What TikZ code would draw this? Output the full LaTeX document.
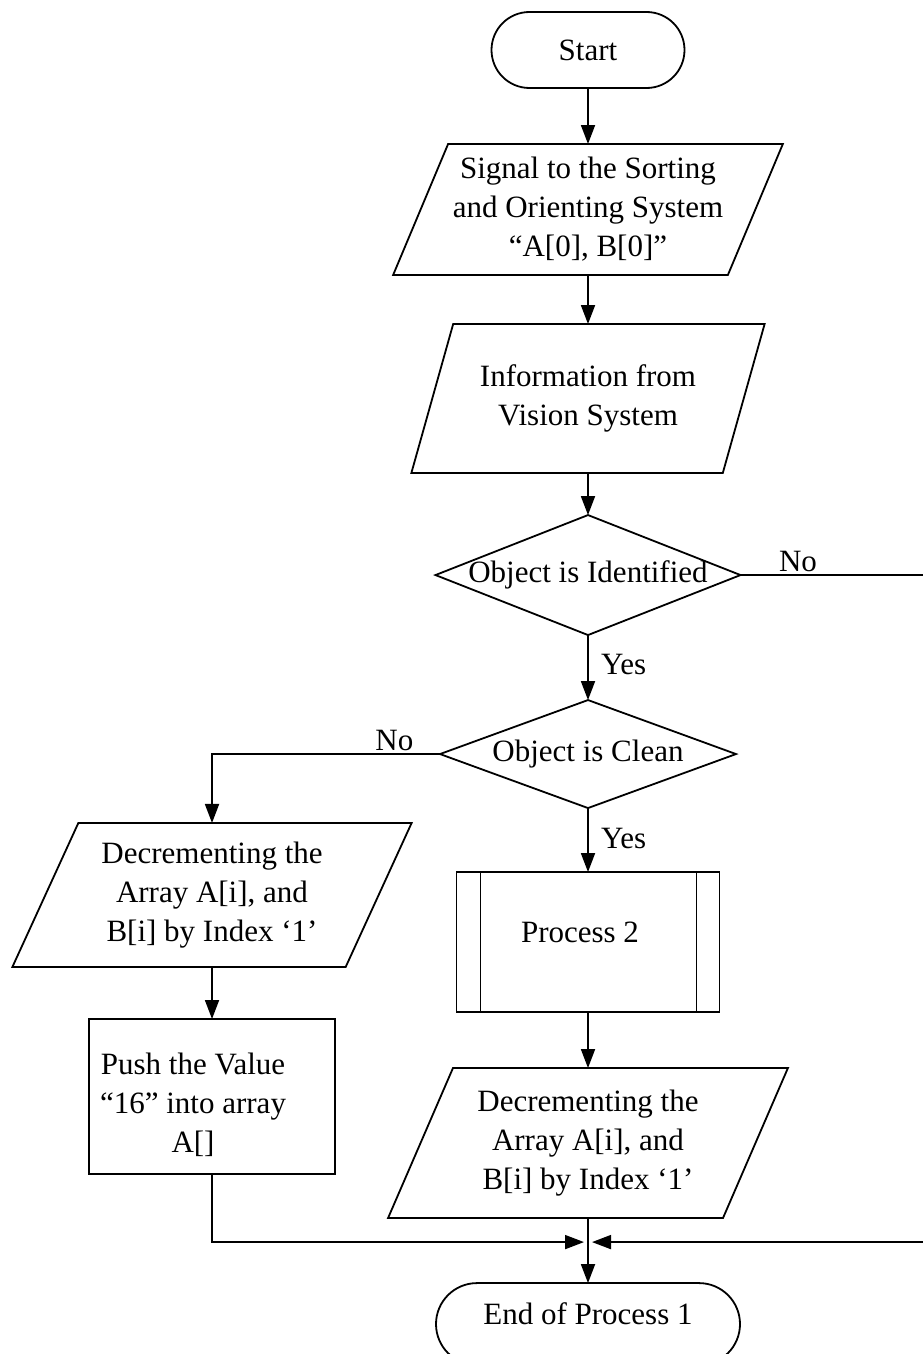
\documentclass[tikz,border=0pt]{standalone}
\usepackage{fontspec}
\setmainfont{Liberation Serif}
\usetikzlibrary{positioning, shapes.geometric, arrows.meta}

\begin{document}
\begin{tikzpicture}
		[
		x=1pt, y=-1pt,
		font=\fontsize{31}{39}\selectfont,
		line width=1.8pt,
		every node/.style ={outer sep=0pt},
		terminal/.style ={rectangle, draw=black, rounded corners=38pt, minimum width=193pt, minimum height=76pt},
		io/.style ={trapezium, draw=black, trapezium stretches=true, align=center, inner sep=0pt},
		decision/.style ={diamond, draw=black, inner sep=0pt},
		block/.style ={rectangle, draw=black, minimum width=246pt, minimum height=155pt},
		subproc/.style ={rectangle, draw=black, minimum width=263pt, minimum height=140pt,
			path picture={
				\draw ([xshift=24pt]path picture bounding box.north west) -- ([xshift=24pt]path picture bounding box.south west);
				\draw ([xshift=-23pt]path picture bounding box.north east) -- ([xshift=-23pt]path picture bounding box.south east);}},
		arrow/.style ={-{Triangle[length=19pt, width=14pt]}},
		tag/.style ={inner sep=3pt}
		]
		\useasboundingbox (0,0) rectangle (922,1354);
		\node (start) [terminal] at (588,50) {Start};
		\node[below=56pt of start] (signal) [io, trapezium left angle=63, trapezium right angle=117, minimum width=392pt, minimum height=131pt] {Signal to the Sorting\\and Orienting System\\“A[0], B[0]”};
		\node[below=49pt of signal] (info) [io, trapezium left angle=63.6, trapezium right angle=116.4, minimum width=354pt, minimum height=149pt] {Information from\\Vision System};
		\node[below=42pt of info] (ident) [decision, minimum width=305pt, minimum height=120pt] {\makebox[0pt]{Object is Identified}};
		\node[below=65pt of ident] (clean) [decision, minimum width=296pt, minimum height=108pt] {\makebox[0pt]{Object is Clean}};
		\node[below=64pt of clean] (proc2) [subproc] {\raisebox{0pt}[0pt][0pt]{Process 2\hspace{16pt}}};
		\node[below=56pt of proc2] (decB) [io, trapezium left angle=63.4, trapezium right angle=116.6, minimum width=400pt, minimum height=150pt] {Decrementing the\\Array A[i], and\\B[i] by Index ‘1’};
		\node[below=65pt of decB] (stop) [terminal, minimum width=304pt, minimum height=82pt, rounded corners=41pt] {\raisebox{0pt}[0pt][0pt]{End of Process 1}};
		% branch for an object that is not clean
		\node (decA) [io, trapezium left angle=62.8, trapezium right angle=117.2, minimum width=400pt, minimum height=144pt] at (212,895) {Decrementing the\\Array A[i], and\\B[i] by Index ‘1’};
		\node[below=52pt of decA] (push) [block] {};
		\node (pushtext) [align=center] at ([xshift=-19pt, yshift=-8pt]push.center) {Push the Value\\“16” into array\\A[]};
		\coordinate (merge) at ([yshift=-24pt]decB.south);
		\coordinate (rim) at (926,0);
		\draw[arrow] (start) -- (signal);
		\draw[arrow] (signal) -- (info);
		\draw[arrow] (info) -- (ident);
		\draw[arrow] (ident) -- node[right, pos=0.45, xshift=10pt] (yesA) [tag] {Yes} (clean);
		\draw[arrow] (clean) -- node[right, pos=0.47, xshift=10pt] (yesB) [tag] {Yes} (proc2);
		\draw[arrow] (proc2) -- (decB);
		\draw[arrow] (decB.south) -- (stop.north);
		\draw[arrow] (clean.west) -| node[above, pos=0.1] (noB) [tag] {No} (decA.north);
		\draw[arrow] (decA) -- (push);
		\draw[arrow] (push.south) |- ([xshift=-4pt]merge);
		\draw[arrow] (ident.east) -- node[above, pos=0.31] (noA) [tag] {No} (ident.east -| rim) |- ([xshift=4pt]merge);
	\end{tikzpicture}
\end{document}
